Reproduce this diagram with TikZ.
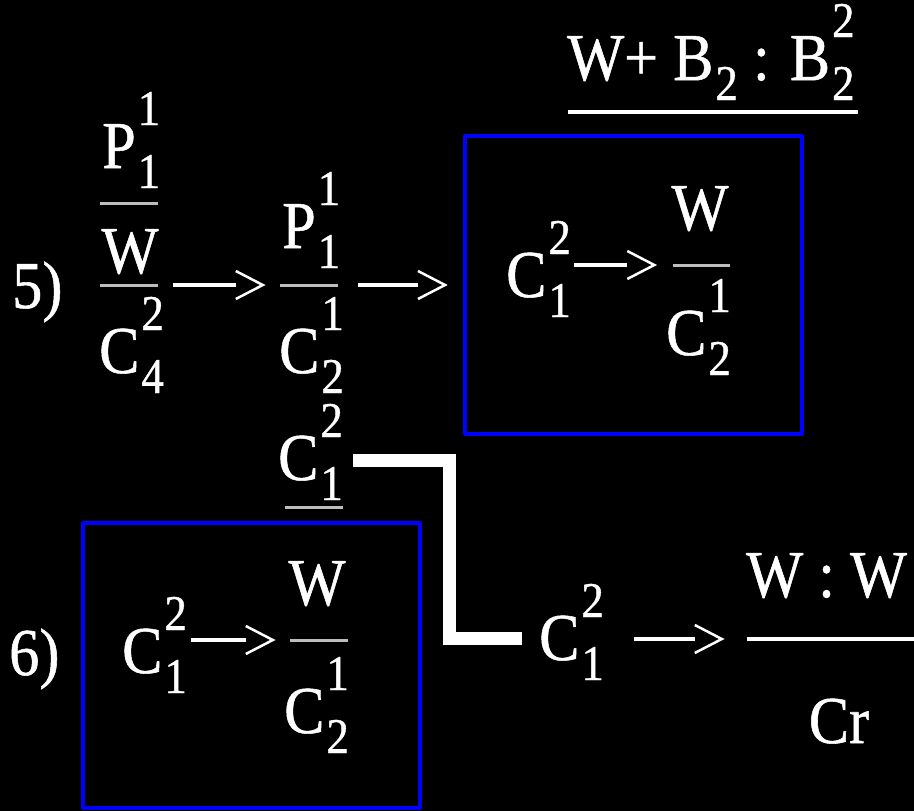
\documentclass[tikz,border=0pt]{standalone}
\usepackage{fontspec}
\newfontfamily\tnr[FakeStretch=0.9,FakeBold=0.8]{Liberation Serif}
\usetikzlibrary{arrows.meta}
\definecolor{barclr}{HTML}{BDBDBD}
\definecolor{boxblue}{HTML}{0000FF}
\newcommand\scrsize{\fontsize{50}{50}\selectfont}
\newcommand\upsub[3]{#1\kern2pt\rlap{\raisebox{43pt}{\scrsize#2}}\raisebox{-20pt}{\scrsize#3}}
\newcommand\lowsub[2]{#1\kern2pt\raisebox{-20pt}{\scrsize#2}}
\pgfdeclarearrow{
  name = Chev,
  parameters = {\the\pgfarrowlength,\the\pgfarrowwidth},
  setup code = {
    \pgfarrowssettipend{\pgfarrowlength}
    \pgfarrowssetlineend{0pt}
    \pgfarrowssetbackend{0pt}
    \pgfarrowshullpoint{\pgfarrowlength}{0pt}
    \pgfarrowsupperhullpoint{0pt}{.5\pgfarrowwidth}
    \pgfarrowssavethe\pgfarrowlength
    \pgfarrowssavethe\pgfarrowwidth
  },
  drawing code = {
    \pgfsetlinewidth{2.5pt}
    \pgfsetbuttcap
    \pgfsetmiterjoin
    \pgfpathmoveto{\pgfqpoint{0pt}{.5\pgfarrowwidth}}
    \pgfpathlineto{\pgfqpoint{\pgfarrowlength}{0pt}}
    \pgfpathlineto{\pgfqpoint{0pt}{-.5\pgfarrowwidth}}
    \pgfusepathqstroke
  },
  defaults = {length=27pt, width=28pt}
}
\tikzset{txt/.style={text=white,inner sep=0pt,anchor=base west},
  fbar/.style={fill=barclr,inner sep=0pt,minimum height=3pt},
  frame/.style={draw=boxblue,line width=4pt,inner sep=0pt,minimum width=337pt},
  conn/.style={white,line width=4pt,-{Chev}},
  link/.style={white,line width=13pt,line join=miter}}

\begin{document}
\begin{tikzpicture}[x=1pt,y=-1pt,line join=round,font=\tnr\fontsize{67}{70}\selectfont]
  \fill[black](0,0)rectangle(914,811);\clip(0,0)rectangle(914,811);
  % row 5
  \node[txt](n5)at(12,308){5)};
  \node[txt](p1)at(102,168){\upsub{P}{1}{1}};
  \node[fbar,minimum width=58pt](b1)at(129,203){};
  \node[txt,anchor=base](w1)at(130,273){W};
  \node[fbar,minimum width=58pt](b2)at(129,285){};
  \node[txt](c1)at(99,373){\upsub{C}{2}{4}};
  \node[txt](p2)at(282,248){\upsub{P}{1}{1}};
  \node[fbar,minimum width=58pt](s2b)at(309,285){};
  \node[txt](c2)at(279,373){\upsub{C}{1}{2}};
  \draw[conn,shorten <=15pt,shorten >=17pt](b2)--(s2b);
  \node[frame,minimum height=298pt](box1)at(633.5,285){};
  \draw[conn,shorten <=20pt,shorten >=18pt](s2b)--(box1);
  \node[txt](k1)at(506,297){\upsub{C}{2}{1}};
  \node[fbar,minimum width=57pt](kb1)at(701,265){};
  \node[txt,anchor=base](w2)at(700,230){W};
  \node[txt](c3)at(666,355){\upsub{C}{1}{2}};
  \draw[conn,shorten <=3pt,shorten >=18pt](k1.east|-kb1)--(kb1.west);
  \node[txt](hd)at(567,80){W+ \lowsub{B}{2} : \upsub{B}{2}{2}};
  \draw[white,line width=4pt](568,112)--(858,112);
  % middle branch
  \node[txt](m1)at(278,480){\upsub{C}{2}{1}};
  \draw[barclr,line width=3pt](285,507)--(343,507);
  \node[txt](r1)at(539,660){\upsub{C}{2}{1}};
  \coordinate(j1)at(449,460);\coordinate(j2)at(449,638);
  \draw[link,shorten <=10pt,shorten >=17pt](m1.east|-j1)--(j1)--(j2)--(r1.west|-j2);
  \node[fbar,fill=white,minimum width=220pt,minimum height=4pt](rb)at(857,639){};
  \draw[conn,shorten <=30pt,shorten >=25pt](r1.east|-rb)--(rb.west);
  \node[txt](ww)at(746,597){W : W};
  \node[txt,anchor=base](cr)at(839,743){Cr};
  % row 6
  \node[txt](n6)at(9,675){6)};
  \node[frame,minimum height=285pt](box2)at(251.5,665.5){};
  \node[txt](k2)at(122,673){\upsub{C}{2}{1}};
  \node[fbar,minimum width=58pt](kb2)at(319,640){};
  \node[txt,anchor=base](w3)at(317,605){W};
  \node[txt](c4)at(284,733){\upsub{C}{1}{2}};
  \draw[conn,shorten <=4pt,shorten >=17pt](k2.east|-kb2)--(kb2.west);
\end{tikzpicture}
\end{document}
